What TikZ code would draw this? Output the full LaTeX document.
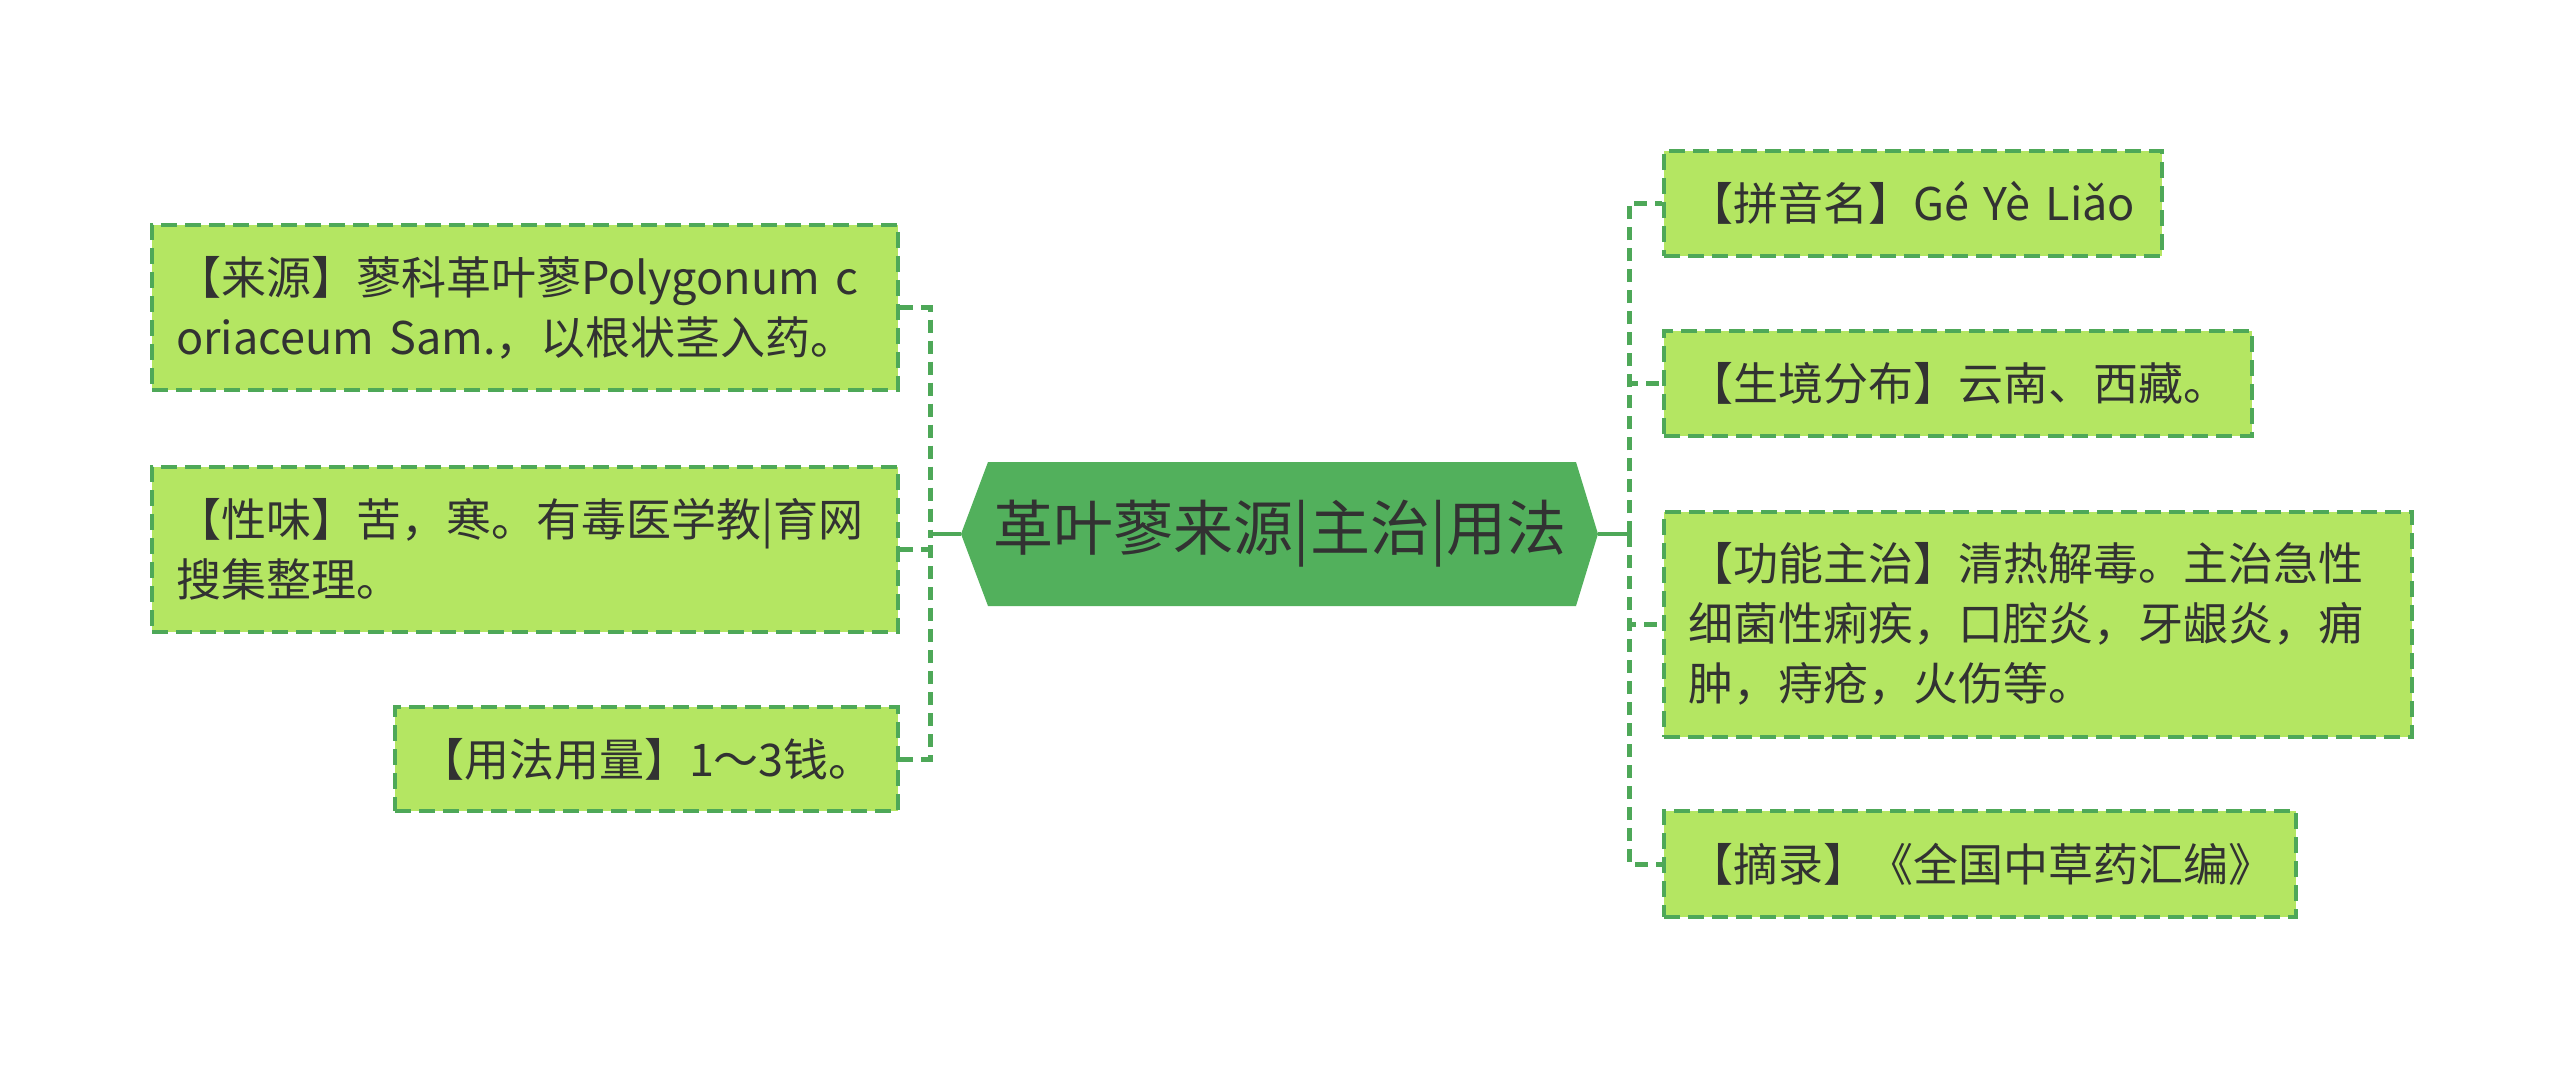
\documentclass[tikz,border=0pt]{standalone}
\usepackage{fontspec}
\setmainfont{Noto Sans CJK SC}
\usetikzlibrary{calc}
\definecolor{leafgreen}{RGB}{180,230,98}
\definecolor{edgegreen}{RGB}{78,168,88}
\definecolor{hubgreen}{RGB}{82,176,92}
\definecolor{inkgray}{RGB}{50,50,50}

\begin{document}
\begin{tikzpicture}[x=1pt, y=-1pt,
	leaf/.style={draw=edgegreen, fill=leafgreen, line width=4pt, dash pattern=on 16pt off 8pt,
		anchor=west, align=left, inner xsep=24pt, inner ysep=0pt, text=inkgray,
		font=\fontsize{45}{60}\selectfont},
	hub/.style={text=inkgray, inner sep=0pt, font=\fontsize{60}{72}\selectfont},
	dashlink/.style={edgegreen, line width=5pt, dash pattern=on 13pt off 8pt},
	solidlink/.style={edgegreen, line width=4.5pt}]
%	\draw[gray!50, dashed, step=100] (0,0) grid (2560,1068);
	\fill[white] (0,0) rectangle (2560,1068);
	\useasboundingbox (0,0) rectangle (2560,1068);
	
	% centre hexagon
	\coordinate (hubW) at (961,534);
	\coordinate (hubE) at (1598,534);
	\fill[hubgreen] (hubW) -- (988,462) -- (1576,462) -- (hubE) -- (1576,606) -- (988,606) -- cycle;
	\node[hub] (hub) at (1280,534) {革叶蓼来源|主治|用法};
	
	% left branch
	\node[leaf, text width=698pt, minimum height=165pt] (src) at (150,307.5)
	{【来源】蓼科革叶蓼Polygonum c\\oriaceum Sam.，以根状茎入药。};
	\node[leaf, text width=698pt, minimum height=165pt] (taste) at (150,549.5)
	{【性味】苦，寒。有毒医学教|育网\\搜集整理。};
	\node[leaf, text width=455pt, minimum height=104pt] (dose) at (393,759)
	{【用法用量】1～3钱。};
	
	% right branch
	\node[leaf, text width=450pt, minimum height=105pt] (pinyin) at (1662,203)
	{【拼音名】Gé Yè Liǎo};
	\node[leaf, text width=540pt, minimum height=105pt] (habitat) at (1662,383)
	{【生境分布】云南、西藏。};
	\node[leaf, text width=700pt, minimum height=225pt] (usage) at (1662,624)
	{【功能主治】清热解毒。主治急性\\细菌性痢疾，口腔炎，牙龈炎，痈\\肿，痔疮，火伤等。};
	\node[leaf, text width=584pt, minimum height=106pt] (excerpt) at (1662,864)
	{【摘录】《全国中草药汇编》};
	
	% connectors
	\coordinate (lj) at (930,534);
	\coordinate (rj) at (1629,534);
	\draw[solidlink] (hubW) -- (lj);
	\draw[solidlink] (hubE) -- (rj);
	\draw[dashlink] (src.east) -| (lj);
	\draw[dashlink] (taste.east) -| (lj);
	\draw[dashlink] (dose.east) -| (lj);
	\draw[dashlink] (rj) |- (pinyin.west);
	\draw[dashlink] (rj) |- (habitat.west);
	\draw[dashlink] (rj) |- (usage.west);
	\draw[dashlink] (rj) |- (excerpt.west);
\end{tikzpicture}
\end{document}
